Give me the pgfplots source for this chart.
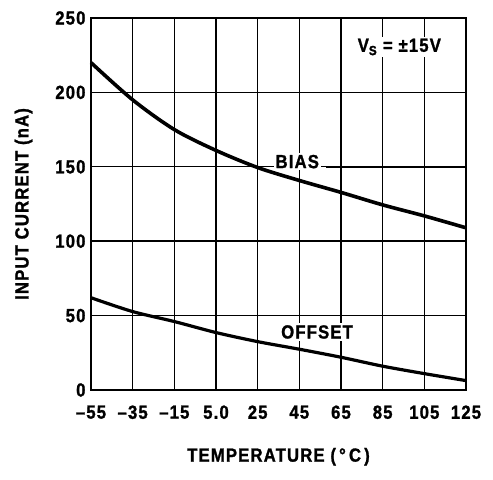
\documentclass[border=0pt]{standalone}
\usepackage{fontspec}
\setmainfont{Liberation Sans}
\newfontfamily\lbl{Liberation Sans Bold}[FakeStretch=0.88, LetterSpace=6, FakeBold=1.2]
\usepackage{pgfplots}
\pgfplotsset{compat=1.18}
\newcommand{\LF}{\lbl\fontsize{19}{22}\selectfont}
\begin{document}
\begin{tikzpicture}
\begin{axis}[
  scale only axis, width=375pt, height=372pt,
  xmin=-55, xmax=125, ymin=0, ymax=250,
  xtick={-55,-35,...,125},
  xticklabels={–55,–35,–15,5.0,25,45,65,85,105,125},
  ytick={0,50,...,250},
  major tick length=0pt,
  grid=major,
  major grid style={black, line width=1.4pt},
  axis line style={black, line width=2pt},
  /pgf/number format/assume math mode=true,
  tick label style={font=\LF},
  xticklabel style={yshift=-12pt},
  yticklabel style={xshift=-2pt},
  label style={font=\LF},
  xlabel={TEMPERATURE (\,°\,C\,)},
  ylabel={INPUT CURRENT (nA)},
  xlabel style={yshift=-22pt},
  ylabel style={yshift=16pt},
  clip=false,
]
\addplot[black, line width=3.6pt, smooth] coordinates {
(-55,220) (-35,195) (-15,175) (5,161) (25,149.5) (45,140.8) (65,132.8) (85,124.4) (105,117) (125,109)};
\addplot[black, line width=3.2pt, smooth] coordinates {
(-55,62) (-35,52.7) (-15,46) (5,38.6) (25,32.5) (45,27.4) (65,22) (85,16) (105,11) (125,6.3)};
\draw[black, line width=2pt] (axis cs:58,150) -- (axis cs:125,150);
\node[fill=white, inner sep=2pt, font=\LF] at (axis cs:44,153.5) {BIAS};
\node[fill=white, inner sep=2pt, font=\LF] at (axis cs:53.5,39) {OFFSET};
\node[fill=white, inner sep=2pt, font=\LF] at (axis cs:93,230.5) {V\textsubscript{S} = ±15V};
\end{axis}
\path (current axis.south west) ++(-91pt,-90pt);
\path (current axis.north east) ++(27pt,18pt);
\end{tikzpicture}
\end{document}
